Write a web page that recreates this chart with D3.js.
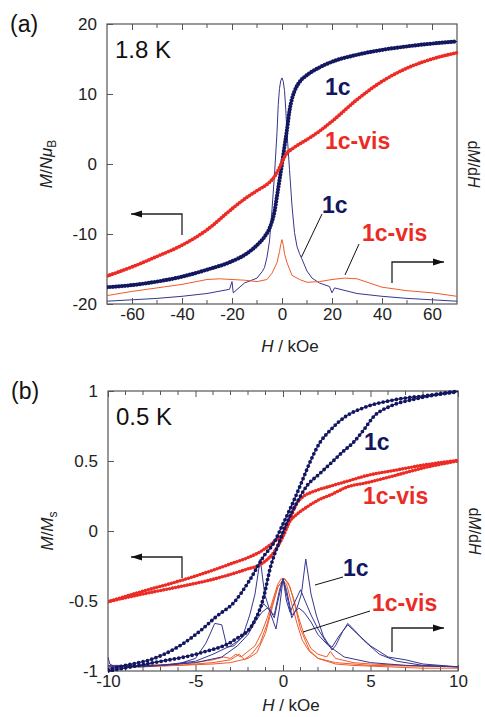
<!DOCTYPE html>
<html><head><meta charset="utf-8">
<script src="https://cdn.jsdelivr.net/npm/d3@7"></script>
<style>
body{margin:0;background:#fff;}
text{font-family:"Liberation Sans",Arial,sans-serif;}
</style></head>
<body><svg id="c" width="485" height="717"></svg>
<script>
// ---------- Panel (a) data : 1.8 K ----------
const aTicksX = [-60,-40,-20,0,20,40,60];
const aMinorX = [-50,-30,-10,10,30,50];
const aTicksY = [-20,-10,0,10,20];
const aH      = [-70,-60,-50,-40,-30,-20,-15,-10,-7,-5,-4,-3,-2,-1,0,1,2,3,4,5,7,10,15,20,30,40,50,60,70];
const aM1c    = [-17.6,-17.3,-16.8,-16.1,-15.1,-13.9,-13.0,-11.6,-10.4,-9.2,-8.2,-6.8,-4.6,-2.3,0,2.5,4.9,7.6,9.3,10.4,11.7,12.7,13.8,14.6,15.6,16.3,16.8,17.2,17.5];
const aMvisH  = [-70,-60,-50,-40,-30,-20,-15,-10,-5,-3,-2,-1,0,1,2,3,5,10,15,20,30,40,50,60,70];
const aMvis   = [-16.0,-14.7,-13.2,-11.6,-9.4,-6.4,-5.0,-3.8,-2.6,-1.8,-1.2,-0.5,0.3,1.0,1.6,1.9,2.4,3.5,4.7,6.1,9.2,11.8,13.7,15.0,15.9];
// dM/dH (arbitrary units, 0 = bottom, 40 = top)
const aDH1c   = [-70,-60,-50,-40,-30,-21,-20,-19.5,-15,-10,-8,-7,-6,-5,-4,-3,-2,-1.5,-1,-0.5,0,0.5,1,1.5,2,3,4,5,6,7,8,10,12,15,19,20,21,30,40,50,60,70];
const aD1c    = [0.4,0.6,0.8,1.1,1.5,2.1,3.2,1.6,3.0,3.7,4.6,5.2,6.7,9.0,13.5,18.5,24.5,28.5,30.8,31.9,32.3,31.8,30.5,27.8,24.5,19.2,14.0,10.2,8.2,7.2,6.4,4.7,3.7,3.0,2.5,1.6,2.3,1.5,1.1,0.8,0.6,0.4];
const aDHvis  = [-70,-60,-50,-40,-30,-25,-20,-15,-10,-6,-4,-2,-1,-0.5,0,0.5,1,2,4,7,10,15,20,25,30,35,40,50,60,70];
const aDvis   = [1.2,1.8,2.3,2.8,3.5,3.6,3.5,3.4,3.2,3.5,4.4,5.9,7.5,8.5,9.2,8.4,7.2,5.9,4.1,3.5,3.1,3.2,3.5,3.7,3.6,3.0,2.4,1.9,1.6,1.1];

// ---------- Panel (b) data : 0.5 K ----------
const bTicksX = [-10,-5,0,5,10];
const bMinorX = [-9,-8,-7,-6,-4,-3,-2,-1,1,2,3,4,6,7,8,9];
const bTicksY = [-1,-0.5,0,0.5,1];
const bHdn1c  = [10,8.4,6.5,4.6,3.6,2.7,2.1,1.5,1.2,0.8,0,-0.55,-1.1,-1.9,-2.8,-3.8,-4.7,-5.9,-7.6,-9,-10];
const bMdn1c  = [1.0,0.97,0.94,0.88,0.82,0.72,0.63,0.48,0.39,0.27,0.05,-0.09,-0.18,-0.35,-0.51,-0.61,-0.71,-0.82,-0.92,-0.96,-0.99];
const bHup1c  = [-10,-7.6,-4.7,-2.8,-1.7,-1.1,-0.74,-0.17,0.21,0.78,1.35,2.1,2.7,3.45,4.0,4.6,5.2,6.1,7.45,10];
const bMup1c  = [-1.0,-0.945,-0.87,-0.78,-0.66,-0.47,-0.27,-0.064,0.055,0.2,0.32,0.41,0.48,0.57,0.63,0.72,0.82,0.89,0.94,0.995];
const bHdnVis = [10,8,6.5,4.6,3.8,2.7,1.7,1.2,0.8,0.4,0,-0.4,-1.3,-2,-3,-4,-6,-8,-10];
const bMdnVis = [0.505,0.47,0.436,0.39,0.36,0.32,0.28,0.25,0.2,0.09,-0.02,-0.065,-0.148,-0.19,-0.235,-0.28,-0.36,-0.43,-0.505];
const bHupVis = [-10,-8,-6,-4,-3,-2,-1.3,-0.4,0,0.4,0.8,1.35,2,2.7,3.8,4.6,6.5,8,10];
const bMupVis = [-0.505,-0.45,-0.40,-0.345,-0.31,-0.27,-0.24,-0.13,-0.04,0.07,0.12,0.17,0.22,0.257,0.32,0.34,0.40,0.45,0.50];
// dM/dH (arbitrary units, 0 = bottom, 2 = top)
const bDH1    = [-10,-9.9,-9.6,-8,-6,-5,-4.4,-3.9,-3.5,-3.2,-2.8,-2.3,-1.9,-1.6,-1.3,-1.05,-0.8,-0.5,-0.2,0,0.2,0.5,0.9,1.2,1.6,2,2.6,3.5,5,7,10];
const bD1     = [0.10,0.05,0.03,0.03,0.05,0.09,0.20,0.34,0.33,0.17,0.18,0.25,0.40,0.55,0.80,0.55,0.45,0.38,0.55,0.66,0.58,0.40,0.45,0.42,0.35,0.26,0.18,0.10,0.06,0.04,0.03];
const bDH2    = [-10,-7,-5,-3.5,-2.6,-2,-1.6,-1.2,-0.9,-0.5,-0.2,0,0.2,0.5,0.8,1.05,1.3,1.6,1.9,2.3,2.8,3.0,3.4,3.7,4.1,4.6,5.5,6.5,8,10];
const bD2     = [0.04,0.04,0.06,0.10,0.18,0.26,0.35,0.42,0.45,0.40,0.58,0.66,0.55,0.38,0.45,0.55,0.80,0.55,0.40,0.25,0.15,0.18,0.28,0.34,0.29,0.22,0.12,0.07,0.04,0.03];
const bDH3    = [-10,-7,-5,-4,-3,-2.5,-2,-1.5,-1.1,-0.8,-0.4,-0.2,0,0.2,0.4,0.7,1.0,1.2,1.6,2,2.5,2.8,3.2,3.7,4.2,5,6,7,8,10];
const bD3     = [0.03,0.04,0.07,0.12,0.18,0.22,0.28,0.40,0.48,0.44,0.30,0.45,0.66,0.50,0.42,0.50,0.58,0.52,0.40,0.30,0.20,0.17,0.25,0.33,0.27,0.18,0.10,0.08,0.05,0.03];
const bDHv1   = [-10,-8,-6,-5,-4,-3.4,-3,-2.7,-2.4,-2,-1.6,-1.2,-0.9,-0.6,-0.3,-0.1,0.2,0.5,0.8,1.1,1.5,2,2.5,3,4,6,8,10];
const bDv1    = [0.03,0.04,0.05,0.06,0.08,0.10,0.09,0.12,0.10,0.14,0.18,0.28,0.38,0.50,0.62,0.66,0.62,0.48,0.34,0.22,0.14,0.09,0.07,0.05,0.04,0.03,0.02,0.02];
const bDHv2   = [-10,-8,-6,-4,-3,-2.5,-2.2,-1.8,-1.3,-0.9,-0.6,-0.3,0.05,0.3,0.6,0.9,1.2,1.6,2,2.5,2.7,3,4,5,7,10];
const bDv2    = [0.03,0.03,0.04,0.06,0.08,0.12,0.08,0.12,0.20,0.34,0.48,0.60,0.66,0.63,0.52,0.38,0.26,0.16,0.12,0.10,0.14,0.09,0.06,0.05,0.04,0.03];
const bDHv3   = [-10,-6,-4,-3,-2,-1.5,-1,-0.6,-0.3,0.1,0.4,0.7,1,1.5,2,3,5,10];
const bDv3    = [0.03,0.04,0.05,0.06,0.09,0.13,0.27,0.46,0.60,0.66,0.60,0.46,0.30,0.15,0.09,0.06,0.04,0.03];

const svg = d3.select("#c");
const NAVY = "#131760", RED = "#ec2b24", NAVYL = "#36368f", REDL = "#f05a2c", FR = "#555";

function panel(o){
  const g = svg.append("g");
  const x = d3.scaleLinear().domain(o.xd).range([o.l,o.r]);
  const y = d3.scaleLinear().domain(o.yd).range([o.b,o.t]);
  const yr = d3.scaleLinear().domain(o.yrd).range([o.b,o.t]);
  o.minorX.forEach(v=>{
    g.append("line").attr("x1",x(v)).attr("x2",x(v)).attr("y1",o.b).attr("y2",o.b-4).attr("stroke",FR);
    g.append("line").attr("x1",x(v)).attr("x2",x(v)).attr("y1",o.t).attr("y2",o.t+4).attr("stroke",FR);
  });
  const ax = g.append("g").attr("transform",`translate(0,${o.b})`)
    .call(d3.axisBottom(x).tickValues(o.xt).tickSizeInner(-6).tickSizeOuter(0).tickPadding(4).tickFormat(d=>String(d)));
  const axt = g.append("g").attr("transform",`translate(0,${o.t})`)
    .call(d3.axisTop(x).tickValues(o.xt).tickSizeInner(-6).tickSizeOuter(0).tickFormat(""));
  const ay = g.append("g").attr("transform",`translate(${o.l},0)`)
    .call(d3.axisLeft(y).tickValues(o.yt).tickSizeInner(-6).tickSizeOuter(0).tickPadding(10).tickFormat(d=>String(d)));
  [ax,axt,ay].forEach(a=>{
    a.selectAll("path").remove();
    a.selectAll("line").attr("stroke",FR);
    a.selectAll("text").attr("font-size",17).attr("fill","#222").attr("font-family","Liberation Sans, Arial, sans-serif");
  });
  g.append("rect").attr("x",o.l).attr("y",o.t).attr("width",o.r-o.l).attr("height",o.b-o.t)
    .attr("fill","none").attr("stroke",FR).attr("stroke-width",1.2);

  const clipId = "clip"+o.id;
  svg.append("clipPath").attr("id",clipId).append("rect").attr("x",o.l).attr("y",o.t-3).attr("width",o.r-o.l+1).attr("height",o.b-o.t+6);
  const pg = g.append("g").attr("clip-path",`url(#${clipId})`);

  o.deriv.forEach(d=>{
    const pts = d.h.map((h,i)=>[h,d.v[i]]);
    pg.append("path").datum(pts)
      .attr("d",d3.line().x(p=>x(p[0])).y(p=>yr(p[1])))
      .attr("fill","none").attr("stroke",d.c).attr("stroke-width",1);
  });
  o.mag.forEach(d=>{
    const pts = d.h.map((h,i)=>[h,d.v[i]]);
    const dd = d3.line().x(p=>x(p[0])).y(p=>y(p[1])).curve(d3.curveMonotoneX)(pts);
    pg.append("path").attr("d",dd).attr("fill","none").attr("stroke",d.c).attr("stroke-width",1.2);
    pg.append("path").attr("d",dd).attr("fill","none").attr("stroke",d.c)
      .attr("stroke-width",d.ms).attr("stroke-linecap","round").attr("stroke-dasharray",`0 ${d.gap}`);
  });

  svg.append("text").attr("x",o.l-97).attr("y",o.t+8).attr("font-size",23).attr("fill","#111").text(o.tag);
  svg.append("text").attr("x",o.l+8).attr("y",o.t+34).attr("font-size",24).attr("fill","#111").text(o.temp);
  o.labels.forEach(t=>{
    svg.append("text").attr("x",t.x).attr("y",t.y).attr("font-size",23).attr("font-weight","bold").attr("fill",t.c).text(t.s);
  });
  o.leaders.forEach(s=>{
    svg.append("line").attr("x1",s[0]).attr("y1",s[1]).attr("x2",s[2]).attr("y2",s[3]).attr("stroke","#111").attr("stroke-width",1);
  });
  const arr = (vx,vy0,vy1,hx,dir)=>{
    svg.append("path").attr("d",`M${vx},${vy0}V${vy1}H${hx}`).attr("fill","none").attr("stroke","#222").attr("stroke-width",1.3);
    svg.append("path").attr("d",`M${hx},${vy1}l${-dir*11},-3.5l0,7z`).attr("fill","#111");
  };
  arr(o.arrL[0],o.arrL[1],o.arrL[2],o.arrL[3],-1);
  arr(o.arrR[0],o.arrR[1],o.arrR[2],o.arrR[3],1);

  const xl = svg.append("text").attr("x",(o.l+o.r)/2+8).attr("y",o.xty).attr("font-size",17).attr("text-anchor","middle").attr("fill","#222");
  xl.append("tspan").attr("font-style","italic").text("H");
  xl.append("tspan").text(" / kOe");
  const yl = svg.append("text").attr("transform",`translate(${o.l-55},${(o.t+o.b)/2}) rotate(-90)`).attr("font-size",17).attr("text-anchor","middle").attr("fill","#222");
  o.ylab(yl);
  const rl = svg.append("text").attr("transform",`translate(${o.r+11},${(o.t+o.b)/2}) rotate(90)`).attr("font-size",16).attr("text-anchor","middle").attr("fill","#222");
  rl.append("tspan").text("d");
  rl.append("tspan").attr("font-style","italic").text("M");
  rl.append("tspan").text("/d");
  rl.append("tspan").attr("font-style","italic").text("H");
}

panel({
  id:"a", tag:"(a)", temp:"1.8 K",
  l:107, r:457, t:24, b:304, xty:352,
  xd:[-70,70], yd:[-20,20], yrd:[0,40],
  xt:aTicksX, minorX:aMinorX, yt:aTicksY,
  mag:[
    {h:aH, v:aM1c, c:NAVY, ms:4.2, gap:3.0},
    {h:aMvisH, v:aMvis, c:RED, ms:3.8, gap:3.0}
  ],
  deriv:[
    {h:aDH1c, v:aD1c, c:NAVYL},
    {h:aDHvis, v:aDvis, c:REDL}
  ],
  labels:[
    {x:325,y:95,s:"1c",c:NAVY},{x:325,y:149,s:"1c-vis",c:RED},
    {x:322,y:213,s:"1c",c:NAVY},{x:362,y:241,s:"1c-vis",c:RED}
  ],
  leaders:[[322,214,301.5,257],[359,244,345,275]],
  arrL:[182,235,214,131],
  arrR:[392,283,262,444],
  ylab:t=>{
    t.append("tspan").attr("font-style","italic").text("M");
    t.append("tspan").text("/");
    t.append("tspan").attr("font-style","italic").text("N");
    t.append("tspan").attr("font-style","italic").text("\u03bc");
    t.append("tspan").attr("font-size",12).attr("dy",4).text("B");
  }
});

panel({
  id:"b", tag:"(b)", temp:"0.5 K",
  l:108, r:458, t:391, b:671, xty:711,
  xd:[-10,10], yd:[-1,1], yrd:[0,2],
  xt:bTicksX, minorX:bMinorX, yt:bTicksY,
  mag:[
    {h:bHdnVis.slice().reverse(), v:bMdnVis.slice().reverse(), c:RED, ms:3.6, gap:3.0},
    {h:bHupVis, v:bMupVis, c:RED, ms:3.6, gap:3.0},
    {h:bHdn1c.slice().reverse(), v:bMdn1c.slice().reverse(), c:NAVY, ms:3.8, gap:4.5},
    {h:bHup1c, v:bMup1c, c:NAVY, ms:3.8, gap:4.5}
  ],
  deriv:[
    {h:bDHv1, v:bDv1, c:REDL},{h:bDHv2, v:bDv2, c:REDL},{h:bDHv3, v:bDv3, c:REDL},
    {h:bDH1, v:bD1, c:NAVYL},{h:bDH2, v:bD2, c:NAVYL},{h:bDH3, v:bD3, c:NAVYL}
  ],
  labels:[
    {x:364,y:450,s:"1c",c:NAVY},{x:363,y:504,s:"1c-vis",c:RED},
    {x:343,y:576,s:"1c",c:NAVY},{x:372,y:611,s:"1c-vis",c:RED}
  ],
  leaders:[[343,577,315,585],[370,611,303,632]],
  arrL:[182,578,557,131],
  arrR:[392,652,628,444],
  ylab:t=>{
    t.append("tspan").attr("font-style","italic").text("M");
    t.append("tspan").text("/");
    t.append("tspan").attr("font-style","italic").text("M");
    t.append("tspan").attr("font-size",12).attr("dy",4).text("s");
  }
});
</script></body></html>
